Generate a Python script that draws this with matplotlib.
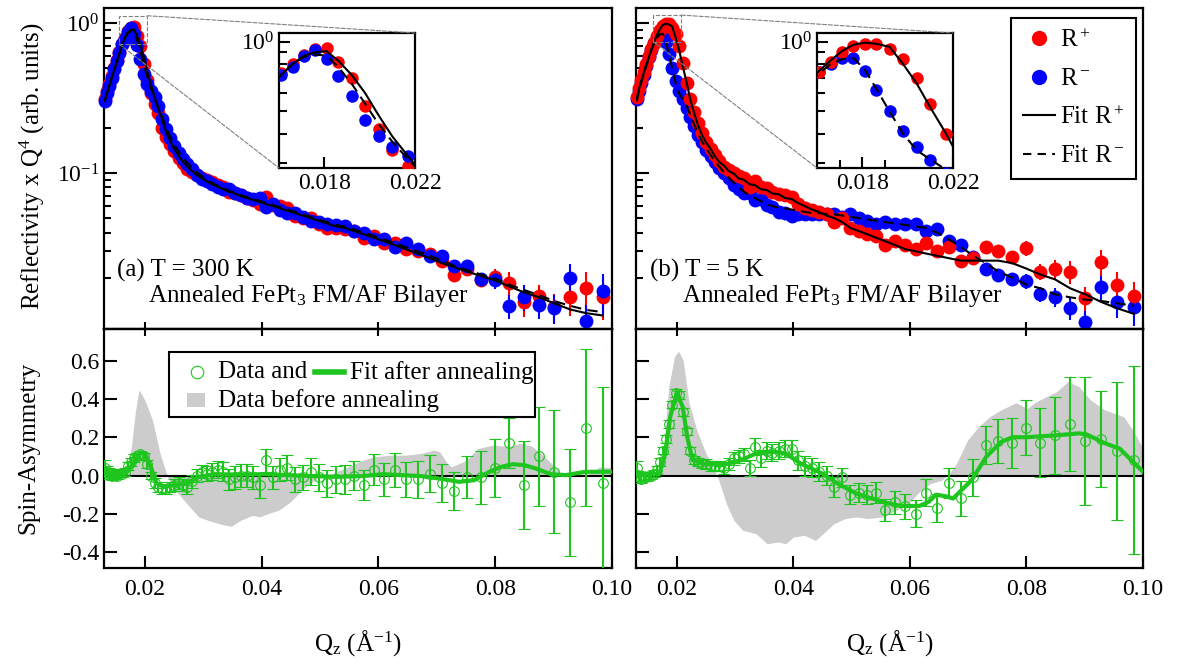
import matplotlib.pyplot as plt
import numpy as np
from matplotlib.lines import Line2D
from matplotlib.patches import Rectangle, ConnectionPatch
from matplotlib.ticker import FixedLocator, FormatStrFormatter, NullFormatter, LogFormatterMathtext

plt.rcParams['font.family'] = ['Liberation Serif', 'DejaVu Serif']
plt.rcParams['mathtext.fontset'] = 'custom'
plt.rcParams['mathtext.rm'] = 'Liberation Serif'
plt.rcParams['mathtext.it'] = 'Liberation Serif:italic'
plt.rcParams['mathtext.bf'] = 'Liberation Serif:bold'
plt.rcParams['axes.unicode_minus'] = False
plt.rcParams['font.size'] = 17

red = '#ff0000'
blue = '#0000ff'
green = '#1ec51e'
gray = '#cccccc'

# Q grid of the measurement (1/A)
q = np.array([
    0.0131, 0.0135, 0.0139, 0.0143, 0.0147, 0.0152, 0.0156, 0.0161, 0.0166, 0.0171,
    0.0176, 0.0181, 0.0186, 0.0192, 0.0198, 0.0204, 0.0210, 0.0217, 0.0223, 0.0230,
    0.0236, 0.0243, 0.0250, 0.0258, 0.0265, 0.0273, 0.0281, 0.0289, 0.0298, 0.0306,
    0.0315, 0.0325, 0.0334, 0.0344, 0.0354, 0.0364, 0.0375, 0.0386, 0.0397, 0.0408,
    0.0420, 0.0432, 0.0444, 0.0457, 0.0470, 0.0484, 0.0498, 0.0512, 0.0527, 0.0542,
    0.0558, 0.0575, 0.0592, 0.0610, 0.0628, 0.0647, 0.0667, 0.0688, 0.0709, 0.0730,
    0.0752, 0.0776, 0.0800, 0.0824, 0.0849, 0.0875, 0.0901, 0.0928, 0.0956, 0.0984])

# --- T = 300 K ---
rp_300 = np.array([
    0.31, 0.35, 0.39, 0.44, 0.50, 0.57, 0.64, 0.73, 0.80, 0.88,
    0.93, 0.94, 0.82, 0.70, 0.53, 0.42, 0.34, 0.29, 0.25, 0.20,
    0.175, 0.155, 0.140, 0.126, 0.116, 0.106, 0.101, 0.097, 0.093, 0.090,
    0.087, 0.083, 0.080, 0.075, 0.073, 0.071, 0.068, 0.066, 0.062, 0.069,
    0.061, 0.060, 0.058, 0.052, 0.050, 0.050, 0.046, 0.043, 0.043, 0.042,
    0.041, 0.037, 0.038, 0.034, 0.034, 0.031, 0.030, 0.029, 0.026, 0.021,
    0.023, 0.0194, 0.0203, 0.0184, 0.0137, 0.0150, 0.0128, 0.0149, 0.0171, 0.0149])
rm_300 = np.array([
    0.30, 0.34, 0.38, 0.43, 0.49, 0.56, 0.63, 0.72, 0.78, 0.87,
    0.92, 0.84, 0.71, 0.58, 0.46, 0.39, 0.35, 0.32, 0.28, 0.23,
    0.195, 0.170, 0.152, 0.135, 0.124, 0.115, 0.107, 0.097, 0.091, 0.088,
    0.084, 0.080, 0.078, 0.078, 0.074, 0.071, 0.068, 0.067, 0.068, 0.059,
    0.062, 0.057, 0.054, 0.054, 0.051, 0.048, 0.047, 0.046, 0.045, 0.044,
    0.041, 0.040, 0.036, 0.036, 0.032, 0.034, 0.031, 0.028, 0.028, 0.024,
    0.024, 0.0196, 0.0194, 0.0130, 0.0149, 0.0132, 0.0126, 0.0199, 0.0103, 0.0162])
rel_err_300 = np.array([
    0.01, 0.01, 0.01, 0.01, 0.01, 0.01, 0.01, 0.01, 0.01, 0.01,
    0.01, 0.01, 0.01, 0.01, 0.01, 0.01, 0.01, 0.01, 0.01, 0.01,
    0.01, 0.01, 0.01, 0.01, 0.01, 0.01, 0.01, 0.01, 0.01, 0.01,
    0.01, 0.01, 0.01, 0.01, 0.01, 0.01, 0.01, 0.01, 0.01, 0.01,
    0.02, 0.02, 0.02, 0.02, 0.02, 0.02, 0.02, 0.02, 0.02, 0.02,
    0.03, 0.03, 0.03, 0.03, 0.03, 0.03, 0.04, 0.04, 0.05, 0.06,
    0.08, 0.10, 0.13, 0.18, 0.20, 0.20, 0.22, 0.25, 0.28, 0.30])
fitp_300 = np.array([
    0.30, 0.34, 0.38, 0.43, 0.48, 0.55, 0.62, 0.72, 0.80, 0.87,
    0.90, 0.91, 0.83, 0.72, 0.60, 0.48, 0.39, 0.32, 0.27, 0.225,
    0.19, 0.165, 0.145, 0.130, 0.119, 0.110, 0.103, 0.097, 0.092, 0.088,
    0.084, 0.081, 0.078, 0.075, 0.073, 0.070, 0.068, 0.066, 0.064, 0.062,
    0.060, 0.058, 0.056, 0.054, 0.052, 0.050, 0.048, 0.046, 0.044, 0.043,
    0.041, 0.039, 0.037, 0.035, 0.033, 0.031, 0.029, 0.027, 0.025, 0.0235,
    0.022, 0.0205, 0.0192, 0.0175, 0.016, 0.0148, 0.0135, 0.0123, 0.0116, 0.0112])
fitm_300 = np.array([
    0.30, 0.34, 0.38, 0.43, 0.48, 0.55, 0.62, 0.72, 0.80, 0.86,
    0.88, 0.87, 0.78, 0.66, 0.54, 0.44, 0.37, 0.31, 0.27, 0.235,
    0.20, 0.175, 0.155, 0.138, 0.126, 0.116, 0.108, 0.101, 0.095, 0.090,
    0.086, 0.082, 0.079, 0.076, 0.074, 0.071, 0.069, 0.067, 0.065, 0.063,
    0.061, 0.059, 0.057, 0.055, 0.053, 0.051, 0.049, 0.047, 0.045, 0.044,
    0.042, 0.040, 0.038, 0.036, 0.034, 0.032, 0.030, 0.028, 0.026, 0.024,
    0.0225, 0.021, 0.0197, 0.018, 0.0166, 0.0153, 0.014, 0.013, 0.0122, 0.0118])

# --- T = 5 K ---
rp_5 = np.array([
    0.32, 0.37, 0.42, 0.47, 0.53, 0.60, 0.67, 0.74, 0.82, 0.90,
    0.96, 0.98, 0.98, 0.93, 0.84, 0.70, 0.54, 0.40, 0.31, 0.255,
    0.215, 0.185, 0.162, 0.145, 0.132, 0.120, 0.110, 0.104, 0.100, 0.095,
    0.092, 0.080, 0.089, 0.080, 0.079, 0.075, 0.072, 0.071, 0.069, 0.062,
    0.058, 0.057, 0.055, 0.053, 0.047, 0.050, 0.043, 0.041, 0.039, 0.038,
    0.033, 0.035, 0.033, 0.031, 0.034, 0.030, 0.032, 0.026, 0.027, 0.032,
    0.030, 0.0275, 0.0316, 0.022, 0.023, 0.022, 0.0146, 0.0256, 0.018, 0.015])
rm_5 = np.array([
    0.31, 0.35, 0.40, 0.45, 0.52, 0.59, 0.66, 0.74, 0.80, 0.85,
    0.85, 0.75, 0.62, 0.50, 0.41, 0.35, 0.31, 0.27, 0.235, 0.205,
    0.18, 0.16, 0.143, 0.130, 0.119, 0.108, 0.100, 0.092, 0.083, 0.078,
    0.074, 0.074, 0.066, 0.067, 0.061, 0.059, 0.055, 0.054, 0.052, 0.053,
    0.053, 0.053, 0.053, 0.053, 0.053, 0.051, 0.053, 0.050, 0.048, 0.046,
    0.047, 0.046, 0.046, 0.046, 0.041, 0.042, 0.035, 0.033, 0.0275, 0.023,
    0.0208, 0.0195, 0.019, 0.0156, 0.0149, 0.0125, 0.0101, 0.0174, 0.0138, 0.0128])
rel_err_5 = np.array([
    0.01, 0.01, 0.01, 0.01, 0.01, 0.01, 0.01, 0.01, 0.01, 0.01,
    0.01, 0.01, 0.01, 0.01, 0.01, 0.01, 0.01, 0.01, 0.01, 0.01,
    0.01, 0.01, 0.01, 0.01, 0.01, 0.01, 0.01, 0.01, 0.01, 0.01,
    0.01, 0.01, 0.01, 0.01, 0.01, 0.01, 0.01, 0.01, 0.01, 0.01,
    0.02, 0.02, 0.02, 0.02, 0.02, 0.02, 0.02, 0.02, 0.02, 0.02,
    0.03, 0.03, 0.03, 0.03, 0.03, 0.03, 0.05, 0.05, 0.06, 0.08,
    0.10, 0.10, 0.12, 0.12, 0.15, 0.17, 0.18, 0.20, 0.22, 0.25])
fitp_5 = np.array([
    0.31, 0.36, 0.41, 0.46, 0.52, 0.59, 0.66, 0.75, 0.83, 0.91,
    0.97, 0.99, 0.98, 0.95, 0.80, 0.66, 0.52, 0.40, 0.31, 0.25,
    0.21, 0.18, 0.16, 0.145, 0.130, 0.118, 0.112, 0.103, 0.099, 0.092,
    0.090, 0.084, 0.083, 0.078, 0.077, 0.073, 0.072, 0.068, 0.067, 0.063,
    0.060, 0.057, 0.055, 0.052, 0.050, 0.047, 0.043, 0.041, 0.039, 0.037,
    0.035, 0.033, 0.031, 0.030, 0.029, 0.028, 0.027, 0.026, 0.026, 0.026,
    0.026, 0.025, 0.023, 0.021, 0.0195, 0.017, 0.0155, 0.0138, 0.0125, 0.0115])
fitm_5 = np.array([
    0.30, 0.35, 0.40, 0.45, 0.51, 0.58, 0.65, 0.73, 0.80, 0.84,
    0.85, 0.76, 0.63, 0.50, 0.40, 0.34, 0.31, 0.28, 0.245, 0.21,
    0.185, 0.163, 0.146, 0.132, 0.120, 0.110, 0.101, 0.093, 0.086, 0.080,
    0.075, 0.071, 0.068, 0.065, 0.062, 0.060, 0.059, 0.058, 0.057, 0.056,
    0.055, 0.054, 0.054, 0.053, 0.053, 0.052, 0.051, 0.050, 0.049, 0.048,
    0.047, 0.046, 0.045, 0.044, 0.043, 0.040, 0.036, 0.032, 0.028, 0.025,
    0.022, 0.020, 0.018, 0.017, 0.0155, 0.0148, 0.0143, 0.0140, 0.0135, 0.0130])

# spin asymmetry after annealing
sa_300 = np.array([
    0.04, 0.02, 0.01, 0.00, 0.01, 0.00, 0.01, 0.01, 0.02, 0.05,
    0.07, 0.09, 0.10, 0.11, 0.10, 0.06, 0.00, -0.04, -0.06, -0.07,
    -0.07, -0.06, -0.05, -0.04, -0.05, -0.06, -0.03, 0.00, 0.02, 0.01,
    0.02, 0.03, 0.02, -0.02, -0.01, 0.00, 0.00, -0.01, -0.05, 0.08,
    -0.01, 0.03, 0.04, -0.02, -0.01, 0.02, -0.01, -0.04, -0.02, -0.02,
    0.00, -0.05, 0.03, -0.02, 0.03, -0.02, -0.02, 0.01, -0.04, -0.08,
    -0.01, -0.01, 0.04, 0.17, -0.05, 0.10, 0.02, -0.14, 0.25, -0.04])
sa_err_300 = np.array([
    0.04, 0.03, 0.03, 0.025, 0.025, 0.02, 0.02, 0.02, 0.02, 0.02,
    0.02, 0.02, 0.02, 0.02, 0.02, 0.02, 0.02, 0.025, 0.025, 0.025,
    0.025, 0.025, 0.03, 0.03, 0.03, 0.035, 0.035, 0.035, 0.035, 0.04,
    0.045, 0.045, 0.05, 0.055, 0.06, 0.06, 0.06, 0.06, 0.065, 0.06,
    0.06, 0.06, 0.065, 0.065, 0.065, 0.07, 0.07, 0.07, 0.07, 0.075,
    0.075, 0.08, 0.08, 0.085, 0.09, 0.09, 0.095, 0.095, 0.10, 0.10,
    0.11, 0.14, 0.15, 0.13, 0.23, 0.26, 0.32, 0.28, 0.41, 0.50])
sa_5 = np.array([
    0.04, -0.01, -0.02, -0.01, -0.01, 0.00, 0.00, 0.01, 0.03, 0.07,
    0.13, 0.19, 0.27, 0.37, 0.43, 0.42, 0.33, 0.23, 0.13, 0.08,
    0.07, 0.06, 0.06, 0.05, 0.05, 0.05, 0.04, 0.06, 0.09, 0.10,
    0.11, 0.04, 0.15, 0.09, 0.13, 0.12, 0.13, 0.14, 0.14, 0.08,
    0.05, 0.04, 0.02, 0.00, -0.06, -0.01, -0.10, -0.09, -0.10, -0.09,
    -0.18, -0.14, -0.16, -0.20, -0.09, -0.17, -0.04, -0.12, -0.01, 0.16,
    0.18, 0.17, 0.25, 0.17, 0.21, 0.27, 0.18, 0.19, 0.13, 0.08])
sa_err_5 = np.array([
    0.035, 0.02, 0.02, 0.02, 0.02, 0.02, 0.02, 0.02, 0.02, 0.02,
    0.02, 0.02, 0.02, 0.02, 0.02, 0.02, 0.02, 0.02, 0.02, 0.02,
    0.02, 0.02, 0.025, 0.025, 0.025, 0.025, 0.03, 0.03, 0.035, 0.035,
    0.035, 0.04, 0.045, 0.045, 0.045, 0.045, 0.045, 0.045, 0.045, 0.05,
    0.05, 0.05, 0.05, 0.05, 0.05, 0.05, 0.05, 0.05, 0.05, 0.055,
    0.055, 0.06, 0.065, 0.07, 0.07, 0.075, 0.08, 0.09, 0.095, 0.10,
    0.115, 0.13, 0.145, 0.18, 0.20, 0.245, 0.335, 0.25, 0.36, 0.49])

# fitted spin asymmetry
q_safit_300 = [0.0128, 0.0148, 0.0167, 0.0180, 0.0192, 0.0200, 0.0210, 0.0220, 0.0233,
               0.0252, 0.0272, 0.0292, 0.0318, 0.0357, 0.0410, 0.0462, 0.0528, 0.0574,
               0.0607, 0.0640, 0.0672, 0.0705, 0.0738, 0.0764, 0.0790, 0.0810, 0.0830,
               0.0850, 0.0869, 0.0895, 0.0921, 0.0954, 0.1000]
safit_300 = [0.02, 0.0, 0.01, 0.06, 0.12, 0.115, 0.045, -0.04, -0.06,
             -0.05, -0.042, -0.007, 0.007, 0.005, 0.007, 0.0, -0.007, -0.003,
             0.007, 0.002, -0.003, -0.016, -0.033, -0.024, 0.019, 0.045, 0.059,
             0.054, 0.037, 0.007, 0.002, 0.019, 0.02]
q_safit_5 = [0.0130, 0.0151, 0.0170, 0.0180, 0.0189, 0.0200, 0.0210, 0.0218, 0.0227,
             0.0247, 0.0278, 0.0310, 0.0336, 0.0368, 0.0387, 0.0412, 0.0450, 0.0476,
             0.0508, 0.0553, 0.0584, 0.0616, 0.0632, 0.0645, 0.0664, 0.0674, 0.0706,
             0.0731, 0.0757, 0.0776, 0.0801, 0.0852, 0.0890, 0.0903, 0.0935, 0.0960, 0.1000]
safit_5 = [0.02, 0.007, 0.007, 0.115, 0.31, 0.43, 0.36, 0.20, 0.08,
           0.06, 0.054, 0.08, 0.115, 0.124, 0.115, 0.063, 0.01, -0.042,
           -0.094, -0.138, -0.159, -0.159, -0.138, -0.10, -0.11, -0.12, -0.024,
           0.098, 0.176, 0.20, 0.20, 0.21, 0.22, 0.215, 0.168, 0.14, 0.02]

# spin asymmetry before annealing (shaded)
q_before_300 = [0.0128, 0.0148, 0.0167, 0.0177, 0.0184, 0.0190, 0.0200, 0.0213, 0.0226, 0.0239,
                0.0252, 0.0272, 0.0292, 0.0308, 0.0331, 0.0348, 0.0364, 0.0384, 0.0397, 0.0410,
                0.0430, 0.0449, 0.0469, 0.0482, 0.0495, 0.0521, 0.0574, 0.0593, 0.0620, 0.0646,
                0.0672, 0.0695, 0.0705, 0.0718, 0.0725, 0.0751, 0.0770, 0.0797, 0.0823, 0.0843,
                0.0862, 0.0882, 0.0902, 0.0915, 0.0934, 0.0960, 0.0979, 0.1000]
before_300 = [0.02, 0.007, 0.01, 0.15, 0.34, 0.447, 0.394, 0.29, 0.115, -0.007,
              -0.077, -0.147, -0.216, -0.234, -0.255, -0.265, -0.234, -0.208, -0.216, -0.20,
              -0.18, -0.138, -0.077, -0.042, -0.016, 0.01, 0.08, 0.098, 0.106, 0.106,
              0.115, 0.133, 0.124, 0.063, 0.045, 0.08, 0.141, 0.159, 0.15, 0.168,
              0.154, 0.106, 0.045, 0.0, -0.007, 0.007, 0.045, 0.04]
q_before_5 = [0.0130, 0.0164, 0.0176, 0.0186, 0.0196, 0.0203, 0.0211, 0.0221, 0.0234, 0.0250,
              0.0266, 0.0272, 0.0285, 0.0298, 0.0313, 0.0336, 0.0355, 0.0374, 0.0387, 0.0400,
              0.0419, 0.0438, 0.0451, 0.0470, 0.0489, 0.0508, 0.0527, 0.0553, 0.0578, 0.0597,
              0.0616, 0.0635, 0.0655, 0.0670, 0.0680, 0.0699, 0.0718, 0.0737, 0.0756, 0.0782,
              0.0801, 0.0817, 0.0833, 0.0852, 0.0871, 0.0890, 0.0910, 0.0935, 0.0967, 0.0986, 0.1000]
before_5 = [0.0, 0.01, 0.08, 0.46, 0.62, 0.65, 0.60, 0.38, 0.24, 0.115,
            0.02, -0.024, -0.147, -0.234, -0.286, -0.304, -0.356, -0.347, -0.356, -0.321,
            -0.312, -0.339, -0.304, -0.251, -0.225, -0.216, -0.225, -0.216, -0.18, -0.147,
            -0.086, -0.042, -0.024, 0.02, 0.063, 0.185, 0.255, 0.307, 0.342, 0.38,
            0.35, 0.386, 0.41, 0.438, 0.49, 0.464, 0.394, 0.342, 0.307, 0.22, 0.141]

labels_temp = ['(a) T = 300 K', '(b) T = 5 K']
sample = 'Annealed FePt$_\\mathregular{3}$ FM/AF Bilayer'

W, H = 1184, 666


def box(x0, y0, x1, y1):
    # pixel box -> figure fraction
    return [x0 / W, 1 - y1 / H, (x1 - x0) / W, (y1 - y0) / H]


def frame(ax):
    for s in ax.spines.values():
        s.set_linewidth(1.6)
    ax.tick_params(which='both', direction='in', width=1.5)
    ax.tick_params(which='major', length=9)
    ax.tick_params(which='minor', length=5)


fig = plt.figure(figsize=(W / 100, H / 100), dpi=100)

top_boxes = [box(104, 8, 612, 329), box(636, 8, 1143, 329)]
bottom_boxes = [box(104, 329, 612, 568), box(636, 329, 1143, 568)]
inset_boxes = [box(279, 33, 415, 168), box(817, 33, 953, 168)]
zoom_rects = [(0.0156, 0.724, 0.0204, 1.119), (0.0160, 0.75, 0.0208, 1.13)]

top_data = [(rp_300, rm_300, rel_err_300, fitp_300, fitm_300),
            (rp_5, rm_5, rel_err_5, fitp_5, fitm_5)]
sa_data = [(sa_300, sa_err_300, q_safit_300, safit_300, q_before_300, before_300),
           (sa_5, sa_err_5, q_safit_5, safit_5, q_before_5, before_5)]

for k in range(2):
    rp, rm, rel, fp, fm = top_data[k]

    # reflectivity
    ax = fig.add_axes(top_boxes[k])
    ax.set_yscale('log')
    order = [(rp, red), (rm, blue)] if k == 0 else [(rm, blue), (rp, red)]
    for r, c in order:
        ax.errorbar(q, r, yerr=r * rel, fmt='o', color=c, ms=10, mew=0,
                    elinewidth=1.5, capsize=5, capthick=1.5, clip_on=False, zorder=3)
    ax.plot(q, fp, color='k', lw=1.5, zorder=4)
    ax.plot(q, fm, color='k', lw=1.5, ls='--', dashes=(5, 3), zorder=4)
    ax.set_xlim(0.013, 0.10)
    ax.set_ylim(0.0091, 1.26)
    frame(ax)
    ax.xaxis.set_major_locator(FixedLocator([0.02, 0.04, 0.06, 0.08, 0.10]))
    ax.tick_params(axis='x', labelbottom=False, length=5)
    ax.yaxis.set_major_locator(FixedLocator([0.1, 1.0]))
    ax.yaxis.set_minor_locator(FixedLocator([0.02, 0.03, 0.04, 0.05, 0.06, 0.07, 0.08, 0.09,
                                             0.2, 0.3, 0.4, 0.5, 0.6, 0.7, 0.8, 0.9]))
    ax.yaxis.set_major_formatter(LogFormatterMathtext())
    ax.yaxis.set_minor_formatter(NullFormatter())
    if k == 1:
        ax.tick_params(axis='y', labelleft=False)

    ax.text(0.026 if k == 0 else 0.028, 0.162, labels_temp[k], transform=ax.transAxes,
            fontsize=18, va='baseline')
    ax.text(0.087 if k == 0 else 0.090, 0.084, sample, transform=ax.transAxes,
            fontsize=18, va='baseline')

    # zoomed peak
    axi = fig.add_axes(inset_boxes[k])
    axi.set_yscale('log')
    for r, c in order:
        axi.plot(q, r, 'o', color=c, ms=9, mew=0, zorder=3)
    axi.plot(q, fp, color='k', lw=1.5, zorder=4)
    axi.plot(q, fm, color='k', lw=1.5, ls='--', dashes=(5, 3), zorder=4)
    axi.set_xlim(0.016, 0.022)
    axi.set_ylim(0.285, 1.09)
    frame(axi)
    axi.tick_params(which='major', length=8)
    axi.tick_params(which='minor', length=6)
    axi.xaxis.set_major_locator(FixedLocator([0.018, 0.022]))
    axi.xaxis.set_major_formatter(FormatStrFormatter('%.3f'))
    if k == 1:
        axi.xaxis.set_minor_locator(FixedLocator([0.017, 0.019]))
    axi.yaxis.set_major_locator(FixedLocator([1.0]))
    axi.yaxis.set_minor_locator(FixedLocator([0.3, 0.4, 0.5, 0.6, 0.7, 0.8, 0.9]))
    axi.yaxis.set_major_formatter(LogFormatterMathtext())
    axi.yaxis.set_minor_formatter(NullFormatter())

    x0, y0, x1, y1 = zoom_rects[k]
    ax.add_patch(Rectangle((x0, y0), x1 - x0, y1 - y0, fill=False, ec='#808080',
                           ls='--', lw=0.8, clip_on=False, zorder=5))
    for xa, ya, xb, yb in [(x1, y1, 1, 1), (x0, y0, 0, 0)]:
        con = ConnectionPatch(xyA=(xa, ya), coordsA=ax.transData, xyB=(xb, yb),
                              coordsB=axi.transAxes, color='#808080', ls='--', lw=0.8)
        fig.add_artist(con)

    if k == 1:
        handles = [Line2D([], [], ls='none', marker='o', ms=11, color=red, mew=0),
                   Line2D([], [], ls='none', marker='o', ms=11, color=blue, mew=0),
                   Line2D([], [], color='k', lw=1.5),
                   Line2D([], [], color='k', lw=1.5, ls='--', dashes=(4, 3))]
        leg = ax.legend(handles, ['R$^+$', 'R$^-$', 'Fit R$^+$', 'Fit R$^-$'],
                        loc='upper right', bbox_to_anchor=(0.986, 0.969), borderaxespad=0,
                        fancybox=False, edgecolor='k', framealpha=1, handlelength=1.3,
                        handletextpad=0.2, labelspacing=0.63, borderpad=0.45, fontsize=18)
        leg.get_frame().set_linewidth(1.5)

    # spin asymmetry
    sa, sa_err, qf, saf, qb, sab = sa_data[k]
    axb = fig.add_axes(bottom_boxes[k])
    axb.fill_between(qb, 0, sab, color=gray, lw=0, zorder=1)
    axb.axhline(0, color='k', lw=1.5, zorder=2)
    axb.plot(qf, saf, color=green, lw=3, zorder=3)
    axb.errorbar(q, sa, yerr=sa_err, fmt='o', mfc='none', mec=green, ecolor=green,
                 ms=7, mew=0.8, elinewidth=1.5, capsize=4, capthick=1.5, zorder=4)
    axb.set_xlim(0.013, 0.10)
    axb.set_ylim(-0.483, 0.765)
    frame(axb)
    axb.xaxis.set_major_locator(FixedLocator([0.02, 0.04, 0.06, 0.08, 0.10]))
    axb.xaxis.set_major_formatter(FormatStrFormatter('%.2f'))
    axb.yaxis.set_major_locator(FixedLocator([-0.4, -0.2, 0.0, 0.2, 0.4, 0.6]))
    axb.yaxis.set_major_formatter(FormatStrFormatter('%.1f'))
    axb.tick_params(axis='x', pad=8)
    if k == 1:
        axb.tick_params(axis='y', labelleft=False)
    top = axb.secondary_xaxis('top')
    top.set_xticks([0.02, 0.04, 0.06, 0.08, 0.10])
    top.tick_params(direction='in', length=5, width=1.5, labeltop=False)
    top.spines['top'].set_linewidth(1.6)

    cx = (bottom_boxes[k][0] + bottom_boxes[k][2] / 2)
    fig.text(cx, 1 - 643 / H, 'Q$_\\mathregular{z}$ (Å$^\\mathregular{-1}$)',
             ha='center', va='center', fontsize=18)

    if k == 0:
        # legend of the spin-asymmetry panel
        axb.add_patch(Rectangle((0.128, 0.632), 0.72, 0.272, transform=axb.transAxes,
                                fc='white', ec='k', lw=1.5, zorder=5))
        axb.plot([0.183], [0.82], 'o', mfc='none', mec=green, ms=9, mew=0.8,
                 transform=axb.transAxes, zorder=6)
        axb.text(0.224, 0.82, 'Data and', transform=axb.transAxes, va='center',
                 fontsize=18, zorder=6)
        axb.plot([0.415, 0.472], [0.82, 0.82], color=green, lw=4,
                 transform=axb.transAxes, zorder=6)
        axb.text(0.484, 0.82, 'Fit after annealing', transform=axb.transAxes,
                 va='center', fontsize=18, zorder=6)
        axb.add_patch(Rectangle((0.163, 0.674), 0.036, 0.058, transform=axb.transAxes,
                                fc=gray, ec='none', zorder=6))
        axb.text(0.224, 0.70, 'Data before annealing', transform=axb.transAxes,
                 va='center', fontsize=18, zorder=6)

fig.text(32 / W, 1 - 166 / H, 'Reflectivity x Q$^\\mathregular{4}$ (arb. units)',
         rotation=90, ha='center', va='center', fontsize=18)
fig.text(28 / W, 1 - 448 / H, 'Spin-Asymmetry', rotation=90, ha='center',
         va='center', fontsize=18)

fig.savefig('out.png', dpi=100)
